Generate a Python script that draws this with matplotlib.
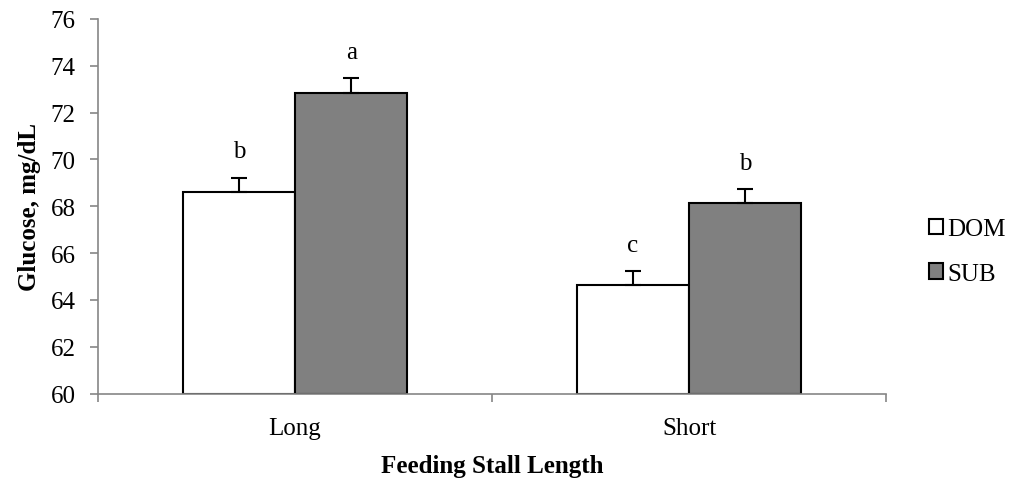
import matplotlib
matplotlib.use("Agg")
import matplotlib.pyplot as plt
import numpy as np

categories = ["Long", "Short"]
series_names = ["DOM", "SUB"]
dom_values = [68.62, 64.63]
sub_values = [72.84, 68.12]
dom_err = [0.60, 0.60]
sub_err = [0.64, 0.62]
dom_letters = ["b", "c"]
sub_letters = ["a", "b"]
yticks = [60, 62, 64, 66, 68, 70, 72, 74, 76]

plt.rcParams['font.family'] = ['Liberation Serif', 'DejaVu Serif']
FS = 18

fig = plt.figure(figsize=(10.14, 4.85), dpi=100)
ax = fig.add_axes([98/1014, (485-394.5)/485, (886-98)/1014, (394.5-20)/485])

x = np.arange(len(categories))
w = 0.285
axis_col = "#868686"

bars_d = ax.bar(x - w/2, np.array(dom_values) - 60, width=w, bottom=60, color="white",
                edgecolor="black", linewidth=1.5, label=series_names[0], zorder=2)
bars_s = ax.bar(x + w/2, np.array(sub_values) - 60, width=w, bottom=60, color="#808080",
                edgecolor="black", linewidth=1.5, label=series_names[1], zorder=2)

for xs, vals, errs, letters in [(x - w/2, dom_values, dom_err, dom_letters),
                                (x + w/2, sub_values, sub_err, sub_letters)]:
    ax.errorbar(xs, vals, yerr=[np.zeros(len(vals)), errs], fmt="none", ecolor="black",
                elinewidth=1.5, capsize=5.5, capthick=1.5, zorder=3)
    for xi, v, e, l in zip(xs, vals, errs, letters):
        ax.annotate(l, (xi, v + e), xytext=(0, 11), textcoords="offset points",
                    ha="center", va="bottom", fontsize=FS)

ax.set_xlim(-0.5, 1.5)
ax.set_ylim(60, 76)
ax.set_yticks(yticks)
ax.set_yticklabels([str(t) for t in yticks], fontsize=FS)
ax.set_xticks(x)
ax.set_xticklabels(categories, fontsize=FS)
ax.set_xticks([-0.5, 0.5, 1.5], minor=True)
ax.tick_params(axis="x", which="major", length=0, pad=17)
ax.tick_params(axis="x", which="minor", length=6, color=axis_col, width=1.2, direction="out")
ax.tick_params(axis="y", length=6, color=axis_col, width=1.2, direction="out", pad=10)

for s in ["top", "right"]:
    ax.spines[s].set_visible(False)
for s in ["left", "bottom"]:
    ax.spines[s].set_color(axis_col)
    ax.spines[s].set_linewidth(1.2)

ax.set_ylabel("Glucose, mg/dL", fontsize=FS, fontweight="bold", labelpad=7)
ax.set_xlabel("Feeding Stall Length", fontsize=FS, fontweight="bold", labelpad=11)

leg = fig.legend(handles=[bars_d, bars_s], labels=series_names, loc="center left",
                 bbox_to_anchor=(911/1014, (485-252.5)/485), frameon=False, fontsize=FS,
                 handlelength=0.56, handleheight=0.56, handletextpad=0.2, labelspacing=0.9,
                 borderpad=0.2)

fig.savefig("out.png", dpi=100)
